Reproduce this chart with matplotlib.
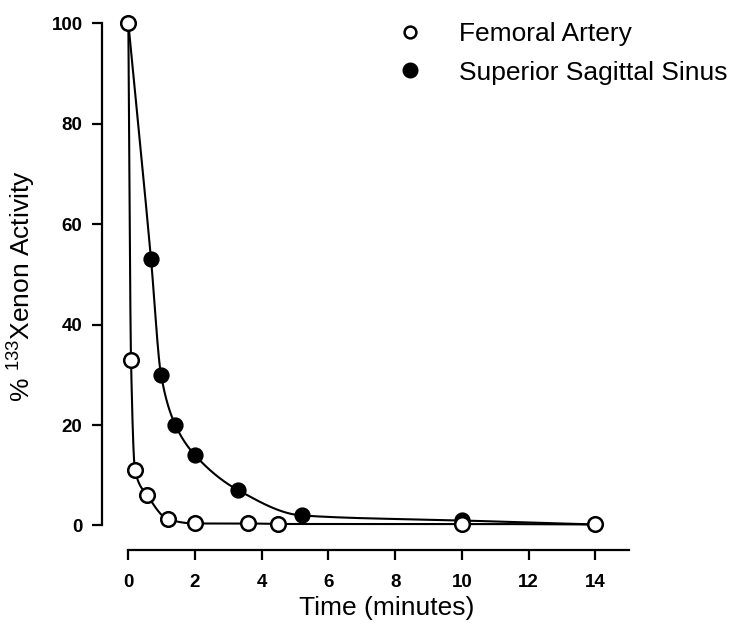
import numpy as np
import matplotlib
matplotlib.use("Agg")
import matplotlib.pyplot as plt
from matplotlib.lines import Line2D

plt.rcParams['font.family'] = ['Liberation Sans', 'DejaVu Sans']

# Data
femoral_t = [0, 0.08, 0.2, 0.57, 1.2, 2.0, 3.6, 4.5, 10, 14]
femoral_v = [100, 33, 11, 6, 1.2, 0.4, 0.4, 0.3, 0.3, 0.2]
sinus_t = [0, 0.68, 0.98, 1.41, 2.0, 3.3, 5.2, 10, 14]
sinus_v = [100, 53, 30, 20, 14, 7, 2.0, 1.0, 0.2]
xticks = [0, 2, 4, 6, 8, 10, 12, 14]
yticks = [0, 20, 40, 60, 80, 100]
labels = ["Femoral Artery", "Superior Sagittal Sinus"]


def pchip(x, y, xs):
    x = np.asarray(x, float); y = np.asarray(y, float)
    h = np.diff(x); d = np.diff(y) / h
    n = len(x)
    m = np.zeros(n)
    for k in range(1, n - 1):
        if d[k - 1] * d[k] <= 0:
            m[k] = 0
        else:
            w1 = 2 * h[k] + h[k - 1]; w2 = h[k] + 2 * h[k - 1]
            m[k] = (w1 + w2) / (w1 / d[k - 1] + w2 / d[k])
    m[0] = d[0]; m[-1] = d[-1]
    idx = np.clip(np.searchsorted(x, xs) - 1, 0, n - 2)
    t = (xs - x[idx]) / h[idx]
    h00 = 2 * t**3 - 3 * t**2 + 1
    h10 = t**3 - 2 * t**2 + t
    h01 = -2 * t**3 + 3 * t**2
    h11 = t**3 - t**2
    return h00 * y[idx] + h10 * h[idx] * m[idx] + h01 * y[idx + 1] + h11 * h[idx] * m[idx + 1]


fig = plt.figure(figsize=(7.44, 6.26), dpi=100)
ax = fig.add_axes([102 / 744, 1 - 550 / 626, (628.6 - 102) / 744, (550 - 23.3) / 626])
ax.set_xlim(-0.79, 15)
ax.set_ylim(-4.88, 100)

xs = np.linspace(0, 14, 3000)
ax.plot(xs, pchip(sinus_t, sinus_v, xs), color='black', lw=1.5, zorder=2, clip_on=False)
ax.plot(sinus_t[1:-1], sinus_v[1:-1], 'o', ms=10.5, mfc='black', mec='black', mew=1.2,
        zorder=3, clip_on=False)
ax.plot(xs, pchip(femoral_t, femoral_v, xs), color='black', lw=1.5, zorder=4, clip_on=False)
ax.plot(femoral_t, femoral_v, 'o', ms=10.5, mfc='white', mec='black', mew=1.8,
        zorder=5, clip_on=False)

for s in ['top', 'right']:
    ax.spines[s].set_visible(False)
ax.spines['left'].set_bounds(0, 100)
ax.spines['bottom'].set_bounds(0, 15)
for s in ['left', 'bottom']:
    ax.spines[s].set_linewidth(1.6)

ax.set_xticks(xticks)
ax.set_yticks(yticks)
ax.tick_params(axis='both', direction='out', width=1.6, labelsize=13.5)
ax.tick_params(axis='y', length=7, pad=7)
ax.tick_params(axis='x', length=7, pad=10)
for lab in ax.get_xticklabels() + ax.get_yticklabels():
    lab.set_fontweight('bold')

ax.set_xlabel('Time (minutes)', fontsize=19)
ax.xaxis.set_label_coords((387 - 102) / 526.6, -46 / 526.7)
ax.set_ylabel(r'% $\mathregular{^{133}}$Xenon Activity', fontsize=19)
ax.yaxis.set_label_coords(-64 / 526.6, 0.5)

handles = [
    Line2D([], [], ls='none', marker='o', ms=8.5, mfc='white', mec='black', mew=1.8),
    Line2D([], [], ls='none', marker='o', ms=10.5, mfc='black', mec='black'),
]
fig.legend(handles, labels, loc='upper left', bbox_to_anchor=(397 / 744, 1 - 22 / 626),
           frameon=False, fontsize=19, handlelength=1.0, handletextpad=1.35,
           labelspacing=0.55, borderpad=0, borderaxespad=0)

fig.savefig('out.png', dpi=100)
